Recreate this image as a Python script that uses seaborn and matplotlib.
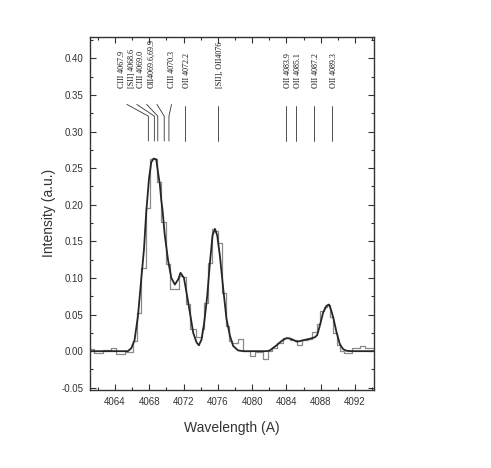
import matplotlib
matplotlib.use('Agg')
import matplotlib.pyplot as plt
import seaborn as sns
from matplotlib.ticker import MultipleLocator, FormatStrFormatter

# observed spectrum (histogram steps): bin edges and intensities
bin_edges = [4061.1, 4061.54, 4062.60, 4063.58, 4064.16, 4065.13, 4066.10, 4066.61,
             4067.07, 4067.57, 4068.04, 4068.90, 4069.40, 4069.98, 4070.45, 4071.49,
             4071.89, 4072.27, 4072.74, 4073.44, 4074.10, 4074.42, 4074.88, 4075.27,
             4075.66, 4076.04, 4076.51, 4076.90, 4077.29, 4077.60, 4078.37, 4078.93,
             4079.74, 4080.32, 4081.21, 4081.87, 4082.36, 4082.86, 4083.62, 4084.40,
             4085.17, 4085.76, 4086.51, 4087.01, 4087.54, 4087.94, 4088.33, 4088.73,
             4089.07, 4089.46, 4089.86, 4090.25, 4090.75, 4091.58, 4092.56, 4093.14,
             4094.2]
obs_flux = [0.003, -0.002, 0.001, 0.004, -0.004, -0.0005, 0.014, 0.052,
            0.114, 0.196, 0.263, 0.231, 0.176, 0.119, 0.085, 0.103,
            0.101, 0.064, 0.030, 0.019, 0.030, 0.066, 0.120, 0.167,
            0.164, 0.148, 0.080, 0.035, 0.014, 0.011, 0.016, 0.0,
            -0.006, -0.001, -0.011, 0.0, 0.005, 0.011, 0.018, 0.015,
            0.009, 0.015, 0.016, 0.026, 0.037, 0.055, 0.061, 0.063,
            0.046, 0.025, 0.008, 0.0, -0.003, 0.004, 0.0065, 0.004]

# fitted profile
fit_wl = [4061.1, 4065.51, 4065.91, 4066.29, 4066.69, 4067.07, 4067.39, 4067.65,
          4067.97, 4068.24, 4068.51, 4068.82, 4069.08, 4069.24, 4069.40, 4069.56,
          4069.80, 4070.20, 4070.58, 4070.99, 4071.38, 4071.65, 4072.05, 4072.35,
          4072.74, 4073.13, 4073.52, 4073.79, 4074.10, 4074.41, 4074.76, 4075.08,
          4075.38, 4075.66, 4075.93, 4076.24, 4076.63, 4077.01, 4077.41, 4077.79,
          4078.37, 4078.96, 4081.67, 4082.06, 4082.45, 4082.85, 4083.23, 4083.62,
          4084.01, 4084.40, 4084.78, 4085.17, 4085.56, 4085.96, 4086.35, 4086.73,
          4087.31, 4087.58, 4087.89, 4088.28, 4088.67, 4088.95, 4089.17, 4089.45,
          4089.83, 4090.22, 4090.61, 4091.0, 4091.58, 4094.2]
fit_flux = [0.0, 0.0, 0.004, 0.015, 0.048, 0.098, 0.139, 0.189,
            0.235, 0.258, 0.263, 0.262, 0.240, 0.228, 0.207, 0.192,
            0.160, 0.124, 0.100, 0.091, 0.098, 0.107, 0.100, 0.080,
            0.053, 0.025, 0.012, 0.008, 0.016, 0.039, 0.075, 0.121,
            0.158, 0.167, 0.158, 0.130, 0.085, 0.044, 0.021, 0.007,
            0.001, 0.0, 0.0, 0.001, 0.0046, 0.008, 0.012, 0.0155,
            0.0178, 0.0173, 0.0155, 0.0132, 0.0137, 0.015, 0.016, 0.017,
            0.019, 0.022, 0.035, 0.053, 0.062, 0.0637, 0.0574, 0.046,
            0.026, 0.0096, 0.0027, 0.0005, 0.0, 0.0]

# line identifications
line_names = ['CIII 4067.9', '[SII] 4068.6', 'CIII 4069.0', 'OII4069.6,69.9',
              'CIII 4070.3', 'OII 4072.2', '[SII], OII4076', 'OII 4083.9',
              'OII 4085.1', 'OII 4087.2', 'OII 4089.3']
line_wl = [4067.9, 4068.6, 4069.0, 4069.75, 4070.3, 4072.2, 4076.0,
           4083.9, 4085.1, 4087.2, 4089.3]

sns.set_style('ticks')
plt.rcParams['font.family'] = ['Liberation Sans', 'DejaVu Sans']
plt.rcParams['axes.unicode_minus'] = False

fig = plt.figure(figsize=(4.91, 4.68), dpi=100)
ax = fig.add_axes([0.1833, 0.1667, 0.5784, 0.7549])

sns.lineplot(x=bin_edges, y=obs_flux + [obs_flux[-1]], drawstyle='steps-post',
             color='#8a8a8a', linewidth=0.9, ax=ax)
sns.lineplot(x=fit_wl, y=fit_flux, color='#262626', linewidth=1.3, ax=ax)

# labels crowded around 4068-4070 get leader lines
crowded_x = [4064.8, 4065.95, 4067.1, 4068.3, 4070.6]
for i, (name, wl) in enumerate(zip(line_names, line_wl)):
    if i < len(crowded_x):
        tx = crowded_x[i]
        sx = tx + 0.6 if i < 4 else tx
        ax.plot([sx, wl, wl], [0.337, 0.321, 0.287], color='#333333', lw=0.6)
    else:
        tx = wl + 0.25
        ax.plot([wl, wl], [0.335, 0.287], color='#333333', lw=0.6)
    ax.text(tx, 0.360, name, rotation=90, ha='center', va='bottom',
            fontsize=5.8, family=['Liberation Serif', 'DejaVu Serif'], color='#111111')

ax.set_xlim(4061.1, 4094.2)
ax.set_ylim(-0.053, 0.4295)
ax.xaxis.set_major_locator(MultipleLocator(4))
ax.xaxis.set_minor_locator(MultipleLocator(2))
ax.yaxis.set_major_locator(MultipleLocator(0.05))
ax.yaxis.set_minor_locator(MultipleLocator(0.025))
ax.yaxis.set_major_formatter(FormatStrFormatter('%.2f'))
ax.tick_params(which='both', direction='in', top=True, right=True,
               colors='#333333', labelcolor='#333333', labelsize=7)
ax.tick_params(which='major', length=4, width=0.8)
ax.tick_params(which='minor', length=2, width=0.8)
ax.tick_params(axis='x', pad=5)
ax.tick_params(axis='y', pad=4.5)
for s in ax.spines.values():
    s.set_color('#333333')
    s.set_linewidth(1.0)

ax.set_xlabel('Wavelength (A)', fontsize=10, color='#333333', labelpad=10)
ax.set_ylabel('Intensity (a.u.)', fontsize=10, color='#333333', labelpad=4)

fig.savefig('out.png', dpi=100)
